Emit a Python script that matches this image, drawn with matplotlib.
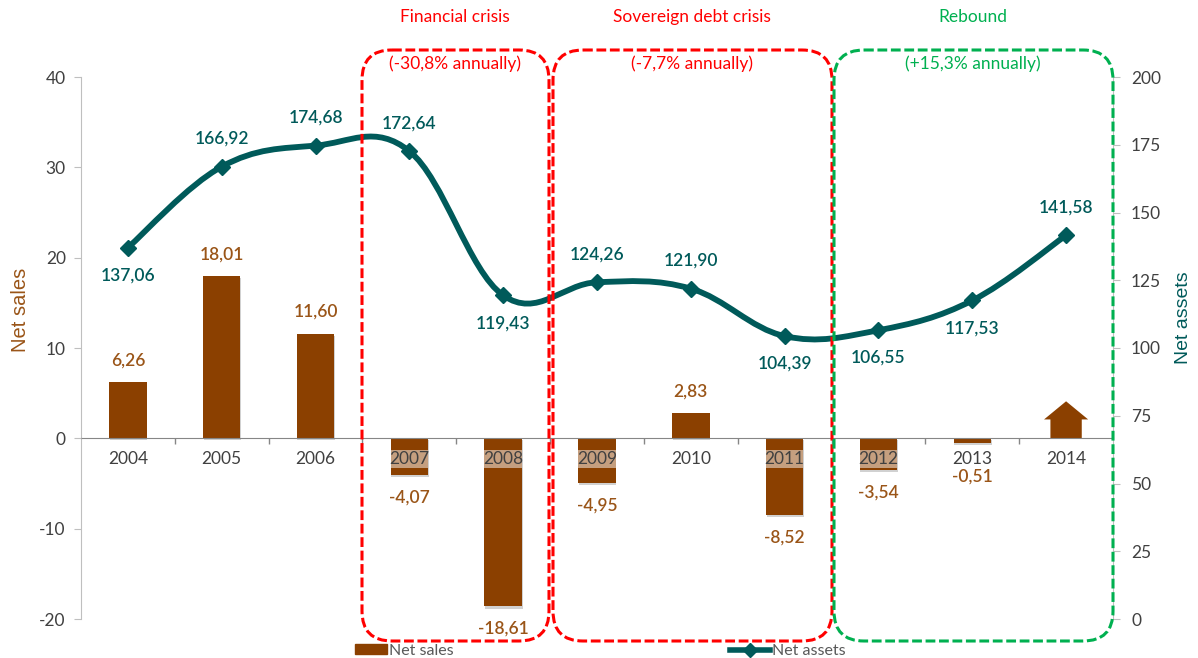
import matplotlib
matplotlib.use('Agg')
import matplotlib.pyplot as plt
import matplotlib.patheffects as pe
from matplotlib.patches import FancyBboxPatch, PathPatch, Patch
from matplotlib.lines import Line2D
from matplotlib.path import Path

plt.rcParams['font.family'] = ['Lato', 'DejaVu Sans']
plt.rcParams['axes.unicode_minus'] = False

# Data
years = ['2004', '2005', '2006', '2007', '2008', '2009', '2010', '2011', '2012', '2013', '2014']
net_sales = [6.26, 18.01, 11.60, -4.07, -18.61, -4.95, 2.83, -8.52, -3.54, -0.51]
arrow_height = 4.1  # 2014 is drawn as an up arrow, no label
net_assets = [137.06, 166.92, 174.68, 172.64, 119.43, 124.26, 121.90, 104.39, 106.55, 117.53, 141.58]
assets_label_above = [False, True, True, True, False, True, True, False, False, False, True]

periods = [('Financial crisis', '(-30,8% annually)', '#FF0000', 362, 549),
           ('Sovereign debt crisis', '(-7,7% annually)', '#FF0000', 553, 832),
           ('Rebound', '(+15,3% annually)', '#00B050', 834, 1113)]

BROWN = '#8B4000'
BROWN_TXT = '#9A5518'
TEAL = '#005A5A'
GREY = '#404040'
W, H = 1198, 658


def fmt(v):
    return f'{v:.2f}'.replace('.', ',')


fig = plt.figure(figsize=(W / 100, H / 100), dpi=100)
ax = fig.add_axes([81 / W, 1 - 619 / H, (1113 - 81) / W, (619 - 77) / H])
ax2 = ax.twinx()
xs = list(range(len(years)))

# Bars
shadow = [pe.SimplePatchShadow(offset=(0.5, -1.5), alpha=0.18, shadow_rgbFace='k'), pe.Normal()]
bars = ax.bar(xs[:-1], net_sales, width=0.4, color=BROWN, zorder=1)
for b in bars:
    b.set_path_effects(shadow)

# tick labels sit on a pale band over the bars they cross
for x, v in zip(xs, net_sales):
    if v < -3:
        ax.bar(x, -2.0, bottom=-1.3, width=0.4, color='white', alpha=0.5, zorder=1.5)

for x, v in zip(xs, net_sales):
    off = 15.5 if v > 0 else -16
    if v == -0.51:
        off = -24.5
    ax.annotate(fmt(v), (x, v), xytext=(0, off), textcoords='offset points', ha='center', va='center',
                color=BROWN_TXT, fontsize=12.5, fontweight='semibold')

# 2014 arrow
xa = xs[-1]
neck = arrow_height * 0.51
ax.fill([xa - 0.167, xa - 0.167, xa - 0.235, xa, xa + 0.235, xa + 0.167, xa + 0.167],
        [0, neck, neck, arrow_height, neck, neck, 0], color=BROWN, lw=0, zorder=1)

ax.set_xlim(-0.5, len(years) - 0.5)
ax.set_ylim(-20, 40)
ax.set_yticks(range(-20, 41, 10))
ax.set_xticks(xs)
ax.set_xticklabels(years)
ax.set_xticks([x + 0.5 for x in xs[:-1]], minor=True)
ax.tick_params(axis='x', which='major', length=0, pad=9, labelsize=12.5, labelcolor=GREY)
ax.tick_params(axis='x', which='minor', length=4, color='#868686', width=1)
ax.tick_params(axis='y', length=5, color='#BFBFBF', labelsize=12.5, labelcolor=GREY, pad=6)
for s in ['top', 'right']:
    ax.spines[s].set_visible(False)
ax.spines['left'].set_color('#BFBFBF')
ax.spines['bottom'].set_position(('data', 0))
ax.spines['bottom'].set_color('#868686')
ax.set_axisbelow(False)

# Smooth assets line (Excel style curve through the points)
verts = [(xs[0], net_assets[0])]
codes = [Path.MOVETO]
n = len(xs)
for i in range(n - 1):
    p0 = (xs[max(i - 1, 0)], net_assets[max(i - 1, 0)])
    p1 = (xs[i], net_assets[i])
    p2 = (xs[i + 1], net_assets[i + 1])
    p3 = (xs[min(i + 2, n - 1)], net_assets[min(i + 2, n - 1)])
    c1 = (p1[0] + (p2[0] - p0[0]) / 6 * 1.1, p1[1] + (p2[1] - p0[1]) / 6 * 1.1)
    c2 = (p2[0] - (p3[0] - p1[0]) / 6 * 1.1, p2[1] - (p3[1] - p1[1]) / 6 * 1.1)
    verts += [c1, c2, p2]
    codes += [Path.CURVE4] * 3
ax2.add_patch(PathPatch(Path(verts, codes), fill=False, edgecolor=TEAL, lw=4.2, zorder=3, capstyle='round'))
ax2.plot(xs, net_assets, ls='none', marker='D', ms=8.5, color=TEAL, zorder=4)

for x, v, above in zip(xs, net_assets, assets_label_above):
    ax2.annotate(fmt(v), (x, v), xytext=(0, 20 if above else -20), textcoords='offset points', ha='center',
                 va='center', color=TEAL, fontsize=12.5, fontweight='semibold', zorder=5)

ax2.set_ylim(0, 200)
ax2.set_yticks(range(0, 201, 25))
ax2.tick_params(axis='y', length=5, color='#BFBFBF', labelsize=12.5, labelcolor=GREY, pad=8)
for s in ['top', 'left', 'bottom']:
    ax2.spines[s].set_visible(False)
ax2.spines['right'].set_color('#BFBFBF')

fig.text(20 / W, 1 - 310 / H, 'Net sales', rotation=90, ha='center', va='center', color=BROWN_TXT,
         fontsize=14.5, family='Liberation Sans')
fig.text(1183 / W, 1 - 318 / H, 'Net assets', rotation=90, ha='center', va='center', color=TEAL,
         fontsize=14, family='Liberation Sans')

# Overlay in pixel coordinates for the period boxes
ov = fig.add_axes([0, 0, 1, 1], facecolor='none')
ov.set_xlim(0, W)
ov.set_ylim(H, 0)
ov.axis('off')
for title, sub, col, x0, x1 in periods:
    ov.add_patch(FancyBboxPatch((x0 + 30, 50 + 30), x1 - x0 - 60, 591 - 60,
                                boxstyle='round,pad=30,rounding_size=30', fill=False,
                                edgecolor=col, lw=2.2, ls=(0, (3.2, 1.2))))
    xc = (x0 + x1) / 2
    ov.text(xc - 0.5, 17, title, color=col, ha='center', va='center', fontsize=12.5)
    ov.text(xc - 0.5, 64, sub, color=col, ha='center', va='center', fontsize=12.5)

# Legend, one per entry because they sit far apart
leg_kw = dict(loc='center left', bbox_transform=fig.transFigure, frameon=False, fontsize=11.5,
              labelcolor='#595959', handletextpad=0.15, borderpad=0, borderaxespad=0, handleheight=0.6)
leg1 = ov.legend(handles=[Patch(color=BROWN, label='Net sales')], bbox_to_anchor=(355 / W, 1 - 651 / H),
                 handlelength=2.0, **leg_kw)
ov.add_artist(leg1)
ov.legend(handles=[Line2D([], [], color=TEAL, lw=4, marker='D', ms=7, label='Net assets')],
          bbox_to_anchor=(730 / W, 1 - 651 / H), handlelength=2.5, **leg_kw)

fig.savefig('out.png', dpi=100)
